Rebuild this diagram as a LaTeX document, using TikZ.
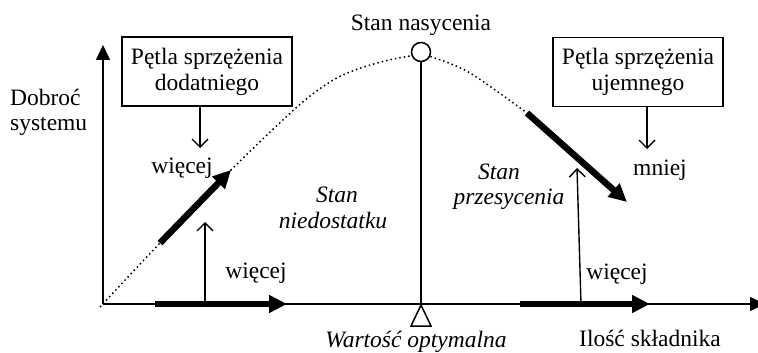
\documentclass[tikz,border=0pt]{standalone}
\usepackage{fontspec}
\setmainfont{Liberation Serif}
\usetikzlibrary{arrows.meta}
\begin{document}
\begin{tikzpicture}[x=1pt,y=-1pt,
  every node/.style={font=\fontsize{23.5}{26}\selectfont, inner sep=0pt},
  lbl/.style={anchor=base},
  itlbl/.style={anchor=base, font=\fontsize{23.5}{26}\selectfont\itshape},
  loopbox/.style={draw, line width=1.5pt, minimum width=170pt, minimum height=69pt, align=center},
  axisline/.style={line width=1.6pt, -{Triangle[length=15pt,width=14pt]}},
  bigarrow/.style={line width=6.5pt, -{Triangle[length=18pt,width=17pt]}},
  thinarrow/.style={line width=1.4pt, -{Straight Barb[length=8pt,width=16pt,line width=1.4pt]}},
  dotline/.style={line width=1.5pt, dash pattern=on 1.5pt off 3pt},
]
\useasboundingbox (0,0) rectangle (758,353);
\clip (0,0) rectangle (758,353);

% axes
\coordinate (O) at (103,304);
\coordinate (ytop) at (103,45);
\coordinate (xend) at (765,304);
\draw[axisline] (O) -- (ytop);
\draw[axisline] (O) -- (xend);

% quality curve (dotted)
\draw[dotline] plot[smooth, tension=0.55] coordinates {(100,307) (160,243) (231,170) (297,107) (330,82) (355,70) (385,61) (410,56) (421,55) (432,57) (470,73) (527,113)};

% saturation point and optimum marker
\coordinate (opt) at (421,305);
\node[circle, draw, line width=1.5pt, fill=white, minimum size=19pt] (sat) at (421,52) {};
\draw[line width=1.5pt] (sat.south) -- (421,304);
\draw[line width=1.5pt, line join=miter] (opt) -- ++(10,21) -- ++(-20,0) -- cycle;

% feedback loop boxes
\node[loopbox] (posbox) at (207,71.5) {Pętla sprzężenia\\dodatniego};
\node[loopbox] (negbox) at (638,72) {Pętla sprzężenia\\ujemnego};
\coordinate (posdown) at (200,148);
\coordinate (negdown) at (647,149);
\draw[thinarrow] (posbox.south -| posdown) -- (posdown);
\draw[thinarrow] (negbox.south -| negdown) -- (negdown);

% thick arrows along the axis and the curve
\coordinate (pa1) at (155,304);  \coordinate (pa2) at (287,304);
\coordinate (na1) at (520,304);  \coordinate (na2) at (650,304);
\coordinate (pc1) at (160,243);  \coordinate (pc2) at (231,170);
\coordinate (nc1) at (527,113);  \coordinate (nc2) at (627,202);
\draw[bigarrow] (pa1) -- (pa2);
\draw[bigarrow] (na1) -- (na2);
\draw[bigarrow] (pc1) -- (pc2);
\draw[bigarrow] (nc1) -- (nc2);

% thin upward arrows
\coordinate (pu1) at (205,304);  \coordinate (pu2) at (205,222);
\coordinate (nu1) at (581,304);  \coordinate (nu2) at (577,168);
\draw[thinarrow] (pu1) -- (pu2);
\draw[thinarrow] (nu1) -- (nu2);

% labels
\node[lbl] (tsat) at (421,31) {Stan nasycenia};
\node[anchor=base west] (ty1) at (10,105) {Dobroć};
\node[anchor=base west] (ty2) at (10,130) {systemu};
\node[lbl] (w1) at (182,173) {więcej};
\node[lbl] (w2) at (256,278) {więcej};
\node[lbl] (w3) at (617,279) {więcej};
\node[lbl] (mn) at (660,175) {mniej};
\node[itlbl] (s1a) at (337,202) {Stan};
\node[itlbl] (s1b) at (333,228) {niedostatku};
\node[itlbl] (s2a) at (499,179) {Stan};
\node[itlbl] (s2b) at (509,204) {przesycenia};
\node[itlbl] (topt) at (416,347) {Wartość optymalna};
\node[lbl] (tx) at (650,346) {Ilość składnika};
\end{tikzpicture}
\end{document}
